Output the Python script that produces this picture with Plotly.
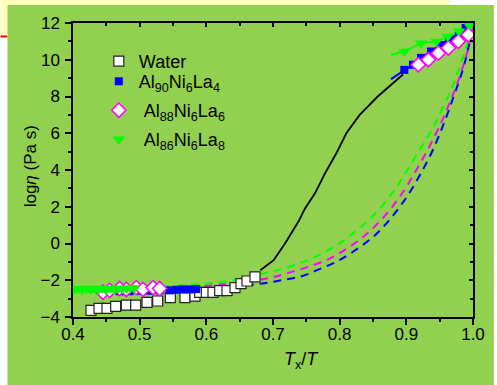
import plotly.graph_objects as go

# ---------------- data ----------------
water_x = [0.427, 0.439, 0.451, 0.464, 0.480, 0.494, 0.511, 0.527, 0.546, 0.568,
           0.583, 0.590, 0.600, 0.610, 0.620, 0.631, 0.643, 0.652, 0.661, 0.673]
water_y = [-3.64, -3.53, -3.53, -3.42, -3.35, -3.35, -3.20, -3.13, -2.95, -2.95,
           -2.86, -2.66, -2.66, -2.66, -2.57, -2.57, -2.40, -2.18, -2.04, -1.82]

water_line_x = [0.681, 0.701, 0.718, 0.738, 0.748, 0.763, 0.778, 0.795, 0.81, 0.83, 0.857, 0.882, 0.895]
water_line_y = [-1.46, -0.91, 0.0, 1.18, 1.91, 2.73, 3.82, 4.91, 6.0, 7.0, 8.0, 8.8, 9.2]

al90_lo_x = [0.47, 0.485, 0.50, 0.515, 0.53, 0.545, 0.555, 0.565, 0.575, 0.585]
al90_lo_y = [-2.6, -2.6, -2.58, -2.57, -2.55, -2.55, -2.52, -2.5, -2.5, -2.48]
al90_hi_line_x = [0.877, 0.897, 0.91, 0.922, 0.937, 0.952, 0.964, 0.979, 0.989]
al90_hi_line_y = [8.95, 9.45, 9.73, 10.1, 10.45, 10.8, 11.1, 11.45, 11.73]
al90_hi_x = [0.897, 0.91, 0.922, 0.937, 0.952, 0.964, 0.979, 0.989]
al90_hi_y = [9.45, 9.73, 10.1, 10.45, 10.8, 11.1, 11.45, 11.73]
al90_fit_x = [0.47, 0.55, 0.60, 0.64, 0.683, 0.713, 0.743, 0.768, 0.795, 0.82,
              0.85, 0.875, 0.90, 0.92, 0.94, 0.958, 0.972, 0.985, 0.994, 1.0]
al90_fit_y = [-2.55, -2.5, -2.42, -2.33, -2.18, -2.0, -1.78, -1.42, -1.0, -0.45,
              0.35, 1.3, 2.5, 3.7, 5.1, 6.7, 8.1, 9.5, 10.8, 11.9]

al88_lo_x = [0.445, 0.455, 0.47, 0.48, 0.495, 0.505, 0.52, 0.53]
al88_lo_y = [-2.65, -2.55, -2.45, -2.5, -2.4, -2.5, -2.4, -2.45]
al88_hi_x = [0.918, 0.933, 0.948, 0.963, 0.978, 0.993]
al88_hi_y = [9.73, 10.0, 10.36, 10.64, 11.0, 11.36]
al88_fit_x = [0.45, 0.52, 0.58, 0.63, 0.668, 0.698, 0.723, 0.753, 0.783, 0.81,
              0.84, 0.87, 0.895, 0.915, 0.935, 0.955, 0.97, 0.982, 0.992, 1.0]
al88_fit_y = [-2.5, -2.45, -2.35, -2.2, -2.04, -1.85, -1.6, -1.27, -0.86, -0.3,
              0.5, 1.6, 2.8, 4.0, 5.3, 6.8, 8.1, 9.3, 10.5, 11.8]

al86_lo_x = [0.402, 0.408, 0.414, 0.420, 0.426, 0.432, 0.438, 0.444, 0.450, 0.456,
             0.462, 0.468, 0.474, 0.480, 0.486, 0.492]
al86_lo_y = [-2.5, -2.45, -2.5, -2.45, -2.5, -2.45, -2.5, -2.45, -2.5, -2.45,
             -2.5, -2.45, -2.45, -2.45, -2.42, -2.42]
al86_hi_line_x = [0.877, 0.897, 0.922, 0.945, 0.962, 0.979, 0.994]
al86_hi_line_y = [10.27, 10.45, 10.9, 11.0, 11.27, 11.55, 11.9]
al86_hi_x = [0.897, 0.922, 0.945, 0.962, 0.979, 0.994]
al86_hi_y = [10.45, 10.9, 11.0, 11.27, 11.55, 11.9]
al86_fit_x = [0.43, 0.50, 0.55, 0.60, 0.64, 0.68, 0.71, 0.74, 0.765, 0.795, 0.82,
              0.85, 0.88, 0.90, 0.92, 0.94, 0.955, 0.97, 0.98, 0.99, 1.0]
al86_fit_y = [-2.5, -2.42, -2.32, -2.18, -2.0, -1.68, -1.42, -1.08, -0.7, -0.1, 0.55,
              1.5, 2.8, 3.9, 5.1, 6.3, 7.4, 8.6, 9.6, 10.7, 12.0]

legend_names = ["Water",
                "Al<sub>90</sub>Ni<sub>6</sub>La<sub>4</sub>",
                "\u00a0Al<sub>88</sub>Ni<sub>6</sub>La<sub>6</sub>",
                "\u00a0Al<sub>86</sub>Ni<sub>6</sub>La<sub>8</sub>"]
x_ticks = [0.4, 0.5, 0.6, 0.7, 0.8, 0.9, 1.0]
y_ticks = [-4, -2, 0, 2, 4, 6, 8, 10, 12]

# ---------------- style ----------------
W, H = 497, 385
ML, MR, MT, MB = 73, 21, 23, 68
PW, PH = W - ML - MR, H - MT - MB
FONT = "Liberation Sans, Arial, sans-serif"
GREEN_BG = "#92D050"
BLUE = "#0000FF"
MAG = "#FF00FF"
LIME = "#00FF00"


def px_x(p):
    return (p - ML) / PW


def px_y(p):
    return (H - MB - p) / PH


fig = go.Figure()
dash = "8px,6px"

# fits (dashed)
fig.add_trace(go.Scatter(x=al90_fit_x, y=al90_fit_y, mode="lines", showlegend=False,
                         line=dict(color=BLUE, width=2, dash=dash, shape="spline")))
fig.add_trace(go.Scatter(x=al88_fit_x, y=al88_fit_y, mode="lines", showlegend=False,
                         line=dict(color=MAG, width=2, dash=dash, shape="spline")))
fig.add_trace(go.Scatter(x=al86_fit_x, y=al86_fit_y, mode="lines", showlegend=False,
                         line=dict(color=LIME, width=2, dash=dash, shape="spline")))

# high-end connecting lines
fig.add_trace(go.Scatter(x=al90_hi_line_x, y=al90_hi_line_y, mode="lines", showlegend=False,
                         line=dict(color=BLUE, width=2)))
fig.add_trace(go.Scatter(x=al88_hi_x, y=al88_hi_y, mode="lines", showlegend=False,
                         line=dict(color=MAG, width=2)))
fig.add_trace(go.Scatter(x=al86_hi_line_x, y=al86_hi_line_y, mode="lines", showlegend=False,
                         line=dict(color=LIME, width=2)))

# water
fig.add_trace(go.Scatter(x=water_x, y=water_y, mode="markers", name=legend_names[0],
                         legend="legend",
                         marker=dict(symbol="square", size=10, color="white",
                                     line=dict(color="#222222", width=1.2))))
fig.add_trace(go.Scatter(x=water_line_x, y=water_line_y, mode="lines", showlegend=False,
                         line=dict(color="black", width=1.8)))

# Al90
fig.add_trace(go.Scatter(x=al90_lo_x + [None] + al90_hi_x, y=al90_lo_y + [None] + al90_hi_y,
                         mode="markers", name=legend_names[1], legend="legend2",
                         marker=dict(symbol="square", size=8, color=BLUE,
                                     line=dict(color=BLUE, width=0))))
# Al88
fig.add_trace(go.Scatter(x=al88_lo_x + [None] + al88_hi_x, y=al88_lo_y + [None] + al88_hi_y,
                         mode="markers", name=legend_names[2], legend="legend3",
                         marker=dict(symbol="diamond", size=11, color="white",
                                     line=dict(color=MAG, width=1.5))))
# Al86
fig.add_trace(go.Scatter(x=al86_lo_x + [None] + al86_hi_x, y=al86_lo_y + [None] + al86_hi_y,
                         mode="markers", name=legend_names[3], legend="legend4",
                         marker=dict(symbol="triangle-down", size=11, color=LIME,
                                     line=dict(color=LIME, width=0))))

# dummy traces for the extra tick axes
fig.add_trace(go.Scatter(x=[None], y=[None], xaxis="x2", yaxis="y2", showlegend=False,
                         hoverinfo="skip"))
fig.add_trace(go.Scatter(x=[None], y=[None], xaxis="x3", yaxis="y", showlegend=False,
                         hoverinfo="skip"))

axis_common = dict(showgrid=False, zeroline=False, linecolor="black", linewidth=1.5,
                   tickcolor="black", tickwidth=1.5,
                   tickfont=dict(family=FONT, size=17, color="black"))


def legend_box(row_center_px, offset):
    return dict(x=px_x(99), y=px_y(row_center_px - offset), xanchor="left", yanchor="top",
                bgcolor="rgba(0,0,0,0)", borderwidth=0,
                font=dict(family=FONT, size=18, color="black"))


fig.update_layout(
    width=W, height=H,
    margin=dict(l=ML, r=MR, t=MT, b=MB, pad=0),
    paper_bgcolor="white",
    plot_bgcolor="rgba(0,0,0,0)",
    font=dict(family=FONT, size=17, color="black"),
    xaxis=dict(range=[0.4, 1.0], tickvals=x_ticks, tickformat=".1f", ticks="",
               ticklabelstandoff=1, **axis_common),
    xaxis3=dict(range=[0.4, 1.0], overlaying="x", side="bottom", anchor="y",
                tickvals=x_ticks, ticks="outside", ticklen=6, showticklabels=False,
                minor=dict(dtick=0.05, tick0=0.4, ticks="outside", ticklen=3,
                           tickwidth=1.5, tickcolor="black"),
                **axis_common),
    yaxis=dict(range=[-4, 12], tickvals=y_ticks, ticks="outside", ticklen=6,
               ticklabelstandoff=2,
               minor=dict(dtick=1, tick0=-4, ticks="outside", ticklen=3,
                          tickwidth=1.5, tickcolor="black"),
               **axis_common),
    xaxis2=dict(range=[0.4, 1.0], overlaying="x", side="top", anchor="y", ticks="inside",
                tickvals=x_ticks, ticklen=4, showticklabels=False,
                minor=dict(dtick=0.05, tick0=0.4, ticks="inside", ticklen=3,
                           tickwidth=1.5, tickcolor="black"),
                **axis_common),
    yaxis2=dict(range=[-4, 12], overlaying="y", side="right", anchor="x", ticks="inside",
                tickvals=y_ticks, ticklen=4, showticklabels=False,
                minor=dict(dtick=1, tick0=-4, ticks="inside", ticklen=3,
                           tickwidth=1.5, tickcolor="black"),
                **axis_common),
    legend=legend_box(61, 18),
    legend2=legend_box(84, 21),
    legend3=legend_box(113, 21),
    legend4=legend_box(142, 21),
    shapes=[
        dict(type="rect", xref="paper", yref="paper", layer="below",
             x0=px_x(0), x1=px_x(453), y0=px_y(0), y1=px_y(36),
             fillcolor="#FFFFC0", line=dict(width=0)),
        dict(type="line", xref="paper", yref="paper", layer="below",
             x0=px_x(0), x1=px_x(7), y0=px_y(36.5), y1=px_y(36.5),
             line=dict(color="red", width=2)),
        dict(type="rect", xref="paper", yref="paper", layer="below",
             x0=px_x(7), x1=px_x(497), y0=px_y(5), y1=px_y(385),
             fillcolor=GREEN_BG, line=dict(width=0)),
    ],
    annotations=[
        dict(text="log<i>η</i> (Pa s)", xref="paper", yref="paper",
             x=px_x(30), y=px_y(166), textangle=-90, showarrow=False,
             xanchor="center", yanchor="middle",
             font=dict(family=FONT, size=17, color="black")),
        dict(text="<i>T</i><sub>x</sub>/<i>T</i>", xref="paper", yref="paper",
             x=px_x(303), y=px_y(360), showarrow=False,
             xanchor="center", yanchor="middle",
             font=dict(family=FONT, size=18, color="black")),
    ],
)

fig.write_html("out.html")
